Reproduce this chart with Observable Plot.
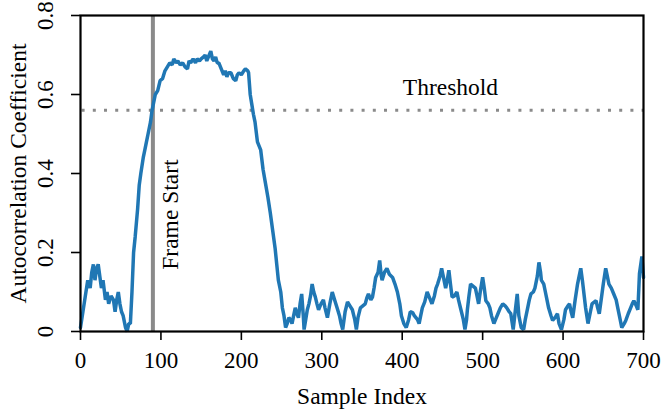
<!DOCTYPE html>
<html>
<head>
<meta charset="utf-8">
<script src="https://cdn.jsdelivr.net/npm/d3@7"></script>
<script src="https://cdn.jsdelivr.net/npm/@observablehq/plot@0.6"></script>
<style>
  html, body { margin: 0; padding: 0; background: #fff; }
  #chart { width: 664px; height: 416px; }
  #chart svg text { font-family: 'Liberation Serif', 'Times New Roman', serif !important; }
</style>
</head>
<body>
<div id="chart"></div>
<script>
const sampleIndex = [0,3,6,9,12,14,16,18,20,22,24,26,28,31,33,35,38,41,43,45,47,49,51,53,56,58,60,62,64,66,68,71,73,75,78,80,82,84,87,89,91,93,96,99,102,105,108,111,114,116,119,121,124,127,130,133,135,137,140,143,145,148,150,153,155,157,160,162,164,166,168,170,172,175,178,180,182,184,187,190,193,195,197,200,203,205,208,209,211,213,215,217,220,222,224,227,230,233,236,239,242,244,246,249,251,253,255,257,259,261,263,265,267,269,271,273,275,277,278,280,282,284,286,288,290,292,294,296,299,302,304,307,310,313,316,319,322,324,326,329,332,335,338,341,343,345,348,351,354,356,358,361,363,365,367,370,372,374,375,378,381,384,388,391,394,397,399,402,405,408,410,413,415,417,419,421,423,425,428,431,434,437,440,442,444,447,449,451,454,456,458,460,462,465,468,470,473,476,478,480,481,483,485,488,491,493,495,497,500,502,504,507,509,511,514,516,519,522,525,528,530,533,535,538,541,543,545,548,551,553,556,558,560,563,565,568,570,572,573,576,578,580,582,585,587,590,593,595,598,601,603,606,608,610,612,615,618,620,622,624,626,628,631,634,636,639,641,643,645,648,650,653,655,657,660,663,666,668,671,673,676,678,681,684,686,688,691,693,695,698,700];
const autocorr = [0.01,0.05,0.09,0.13,0.11,0.15,0.17,0.13,0.16,0.17,0.14,0.11,0.13,0.08,0.10,0.07,0.09,0.08,0.05,0.08,0.10,0.07,0.05,0.04,0.01,0.0,0.02,0.02,0.10,0.20,0.24,0.31,0.37,0.40,0.44,0.46,0.48,0.50,0.53,0.56,0.58,0.60,0.61,0.635,0.64,0.66,0.67,0.68,0.675,0.69,0.68,0.685,0.675,0.68,0.67,0.665,0.685,0.68,0.69,0.68,0.69,0.685,0.69,0.695,0.70,0.685,0.70,0.71,0.69,0.685,0.695,0.68,0.68,0.665,0.65,0.66,0.645,0.655,0.655,0.64,0.635,0.65,0.655,0.65,0.66,0.665,0.66,0.655,0.60,0.575,0.55,0.53,0.48,0.47,0.46,0.41,0.375,0.34,0.30,0.255,0.21,0.17,0.13,0.10,0.06,0.04,0.01,0.02,0.035,0.03,0.02,0.04,0.06,0.045,0.035,0.07,0.095,0.04,0.005,0.03,0.055,0.07,0.09,0.12,0.10,0.087,0.07,0.055,0.07,0.08,0.06,0.035,0.07,0.10,0.08,0.06,0.04,0.02,0.005,0.05,0.075,0.065,0.055,0.03,0.005,0.035,0.06,0.065,0.07,0.085,0.095,0.08,0.087,0.11,0.137,0.15,0.18,0.14,0.13,0.15,0.16,0.145,0.137,0.12,0.10,0.07,0.04,0.02,0.01,0.03,0.05,0.048,0.04,0.035,0.03,0.02,0.04,0.06,0.075,0.10,0.085,0.07,0.09,0.11,0.12,0.14,0.16,0.14,0.11,0.13,0.155,0.12,0.087,0.09,0.10,0.08,0.055,0.03,0.005,0.03,0.055,0.09,0.12,0.115,0.11,0.09,0.07,0.10,0.137,0.11,0.078,0.07,0.06,0.04,0.02,0.03,0.045,0.06,0.07,0.065,0.06,0.05,0.045,0.005,0.06,0.095,0.04,0.01,0.005,0.03,0.06,0.08,0.095,0.10,0.11,0.14,0.175,0.15,0.13,0.12,0.10,0.08,0.06,0.04,0.028,0.035,0.045,0.02,0.005,0.03,0.055,0.065,0.07,0.05,0.035,0.08,0.12,0.14,0.16,0.13,0.095,0.06,0.02,0.05,0.07,0.075,0.078,0.06,0.045,0.09,0.12,0.16,0.14,0.12,0.11,0.095,0.08,0.06,0.03,0.01,0.02,0.028,0.045,0.06,0.07,0.078,0.065,0.055,0.147,0.19,0.137];

const xTicks = [0,100,200,300,400,500,600,700];
const yTicks = [0,0.2,0.4,0.6,0.8];
const frameStart = [90];
const threshold = [0.56];
const annotations = [
  {x: 460, y: 0.617, label: "Threshold", rotate: 0},
  {x: 112.4, y: 0.296, label: "Frame Start", rotate: -90}
];

const serif = "'Liberation Serif', 'Times New Roman', serif";
const data = sampleIndex.map((s, i) => ({s, v: autocorr[i]}));

const chart = Plot.plot({
  width: 664,
  height: 416,
  marginLeft: 80,
  marginRight: 21,
  marginTop: 15,
  marginBottom: 85,
  style: {fontFamily: serif, fontSize: "23px", background: "#fff", color: "#000"},
  x: {domain: [0, 700]},
  y: {domain: [0, 0.8]},
  marks: [
    Plot.ruleX(frameStart, {stroke: "#8a8a8a", strokeWidth: 4}),
    Plot.ruleY(threshold, {stroke: "#8a8a8a", strokeWidth: 3, strokeDasharray: "3,8.2", x1: 2, x2: 700}),
    Plot.line(data, {x: "s", y: "v", stroke: "#2077b4", strokeWidth: 3.5, strokeLinejoin: "miter"}),
    Plot.text(annotations.filter(d => d.rotate === 0), {x: "x", y: "y", text: "label", fontSize: 23.5, fontFamily: serif, lineAnchor: "middle", textAnchor: "middle"}),
    Plot.text(annotations.filter(d => d.rotate !== 0), {x: "x", y: "y", text: "label", fontSize: 23.5, fontFamily: serif, rotate: -90, lineAnchor: "middle", textAnchor: "middle"}),
    Plot.axisX({ticks: xTicks, tickSize: 9, tickPadding: 11, strokeWidth: 1.6, fontSize: 23, fontFamily: serif, label: null}),
    Plot.axisY({ticks: yTicks, tickSize: 9, tickRotate: -90, tickPadding: 19, strokeWidth: 1.6, fontSize: 23, fontFamily: serif, tickFormat: d => String(d), label: null}),
    Plot.text(["Sample Index"], {frameAnchor: "bottom", dy: 65, fontSize: 23.5, fontFamily: serif, lineAnchor: "middle", textAnchor: "middle"}),
    Plot.text(["Autocorrelation Coefficient"], {frameAnchor: "left", dx: -62.5, rotate: -90, fontSize: 23.5, fontFamily: serif, lineAnchor: "middle", textAnchor: "middle"}),
    Plot.frame({stroke: "#000", strokeWidth: 2.2})
  ]
});
document.getElementById("chart").appendChild(chart);
</script>
</body>
</html>
